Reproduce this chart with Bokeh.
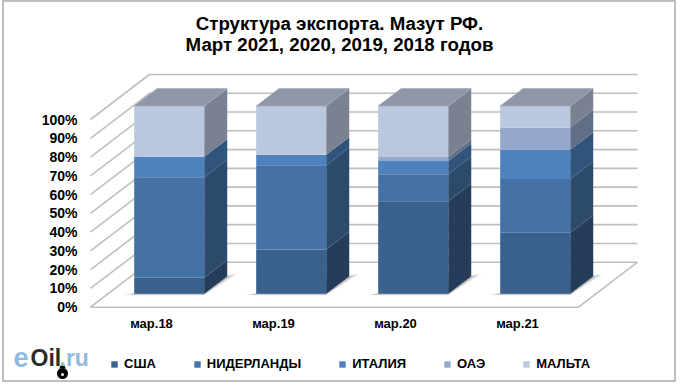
from bokeh.plotting import figure
from bokeh.embed import file_html
from bokeh.resources import INLINE
from bokeh.core.properties import value
from bokeh.models import Legend, LegendItem, Label

categories = ["мар.18", "мар.19", "мар.20", "мар.21"]
usa = [8.5, 23.6, 49.2, 32.5]
netherlands = [53.5, 44.9, 14.4, 28.6]
italy = [11.0, 5.5, 7.1, 15.6]
uae = [0.0, 0.0, 2.1, 11.8]
malta = [27.0, 26.0, 27.2, 11.5]
series_names = ["США", "НИДЕРЛАНДЫ", "ИТАЛИЯ", "ОАЭ", "МАЛЬТА"]
front_colors = ["#38618C", "#4472A6", "#4F81BD", "#95A9CF", "#B9C7DF"]
side_colors = ["#253D5B", "#2C4A6C", "#31547C", "#5F6F88", "#7A8292"]
top_color = "#8E96A8"
percent_ticks = [0, 10, 20, 30, 40, 50, 60, 70, 80, 90, 100]
title_lines = ["Структура экспорта. Мазут РФ.", "Март 2021, 2020, 2019, 2018 годов"]

PX_PER_CAT = 122.0
PX_PER_PCT = 1.877
DX = 59 / PX_PER_CAT
DY = 45 / PX_PER_PCT
BAR_HALF = 0.287
D0, D1 = 0.30, 0.69
GRID = "#BFBFBF"
W, H = 674, 382
FONT = value("Liberation Sans")

def cat_at(page_x):
    return (page_x - 90) / PX_PER_CAT - 0.5

def pct_at(page_y):
    return (306.7 - page_y) / PX_PER_PCT

def px(c, d):
    return c + d * DX

def py(v, d):
    return v + d * DY

p = figure(width=W, height=H, output_backend="svg", toolbar_location=None,
           x_range=(cat_at(2), cat_at(2 + W)), y_range=(pct_at(H), pct_at(0)),
           min_border=0, border_fill_color=None, background_fill_color=None)
p.margin = (0, 0, 0, 2)
p.styles = {"outline": "2px solid #BFBFBF", "outline-offset": "-2px"}
p.outline_line_color = None
p.grid.visible = False
p.axis.visible = False

# walls
for v in percent_ticks:
    p.line([px(-0.5, 0), px(-0.5, 1), px(3.5, 1)], [py(v, 0), py(v, 1), py(v, 1)],
           line_color=GRID, line_width=1.6)
p.line([px(-0.5, 0), px(3.5, 0), px(3.5, 1)], [py(0, 0), py(0, 0), py(0, 1)],
       line_color=GRID, line_width=1.6)

# shadows
for i in range(len(categories)):
    l, r = i - BAR_HALF, i + BAR_HALF
    for left, right, drop, a in [(0.095, 0.06, 0.8, 0.10), (0.07, 0.04, 0.6, 0.14), (0.045, 0.02, 0.4, 0.2)]:
        xs = [px(l - left, D0), px(r, D0), px(r + right, D1 + 0.05), px(r, D1)]
        ys = [py(-drop, D0), py(-drop, D0), py(0, D1 + 0.05), py(0, D1)]
        p.patch(xs, ys, fill_color="#404040", fill_alpha=a, line_color=None)

# bars
stack = [0.0] * len(categories)
front_renderers = []
all_series = [usa, netherlands, italy, uae, malta]
for s, vals in enumerate(all_series):
    fx, fy, sx, sy = [], [], [], []
    for i, v in enumerate(vals):
        l, r = i - BAR_HALF, i + BAR_HALF
        b, t = stack[i], stack[i] + v
        fx.append([px(l, D0), px(r, D0), px(r, D0), px(l, D0)])
        fy.append([py(b, D0), py(b, D0), py(t, D0), py(t, D0)])
        sx.append([px(r, D0), px(r, D1), px(r, D1), px(r, D0)])
        sy.append([py(b, D0), py(b, D1), py(t, D1), py(t, D0)])
        stack[i] = t
    p.patches(sx, sy, fill_color=side_colors[s], line_color=None)
    rend = p.patches(fx, fy, fill_color=front_colors[s], line_color=None)
    front_renderers.append(rend)

tx, ty = [], []
for i in range(len(categories)):
    l, r = i - BAR_HALF, i + BAR_HALF
    t = stack[i]
    tx.append([px(l, D0), px(r, D0), px(r, D1), px(l, D1)])
    ty.append([py(t, D0), py(t, D0), py(t, D1), py(t, D1)])
p.patches(tx, ty, fill_color=top_color, line_color="#A4ACBE", line_width=1, line_alpha=0.7)

# axis labels
p.text([cat_at(77)] * len(percent_ticks), percent_ticks, text=[f"{v}%" for v in percent_ticks],
       text_align="right", text_baseline="middle", text_font=FONT, text_font_style="bold",
       text_font_size="14px", text_color="#000000")
p.text(list(range(len(categories))), [pct_at(323)] * len(categories), text=categories,
       text_align="center", text_baseline="middle", text_font=FONT, text_font_style="bold",
       text_font_size="13px", text_color="#000000")

# title
p.text([cat_at(339)] * 2, [pct_at(23), pct_at(44)], text=title_lines,
       text_align="center", text_baseline="middle", text_font=FONT, text_font_style="bold",
       text_font_size="18.7px", text_color="#000000")

# legend
legend = Legend(items=[LegendItem(label=n, renderers=[r]) for n, r in zip(series_names, front_renderers)],
                orientation="horizontal", location=(108, 11), padding=0, margin=0, spacing=37,
                glyph_width=8, glyph_height=8, label_standoff=6,
                label_text_font="Liberation Sans", label_text_font_style="bold",
                label_text_font_size="13px", label_text_color="#000000",
                background_fill_alpha=0, border_line_color=None)
p.add_layout(legend)

# logo
for txt, x, col, size in [("e", 11, "#8FBBDF", "27px"), ("Oil", 28, "#2B2B2B", "23px"), (".ru", 57, "#8FBBDF", "23px")]:
    p.add_layout(Label(x=x, y=25, x_units="screen", y_units="screen", text=txt, text_color=col,
                       text_baseline="alphabetic", text_font="Liberation Sans",
                       text_font_style="bold", text_font_size=size))
p.scatter([cat_at(62)], [pct_at(373)], marker="circle", size=11, fill_color="#000000", line_color=None)
p.scatter([cat_at(62)], [pct_at(366)], marker="triangle", size=7, fill_color="#000000", line_color=None)
p.scatter([cat_at(62)], [pct_at(374)], marker="circle", size=3, fill_color="#FFFFFF", line_color=None)

open("out.html", "w").write(file_html(p, INLINE))
